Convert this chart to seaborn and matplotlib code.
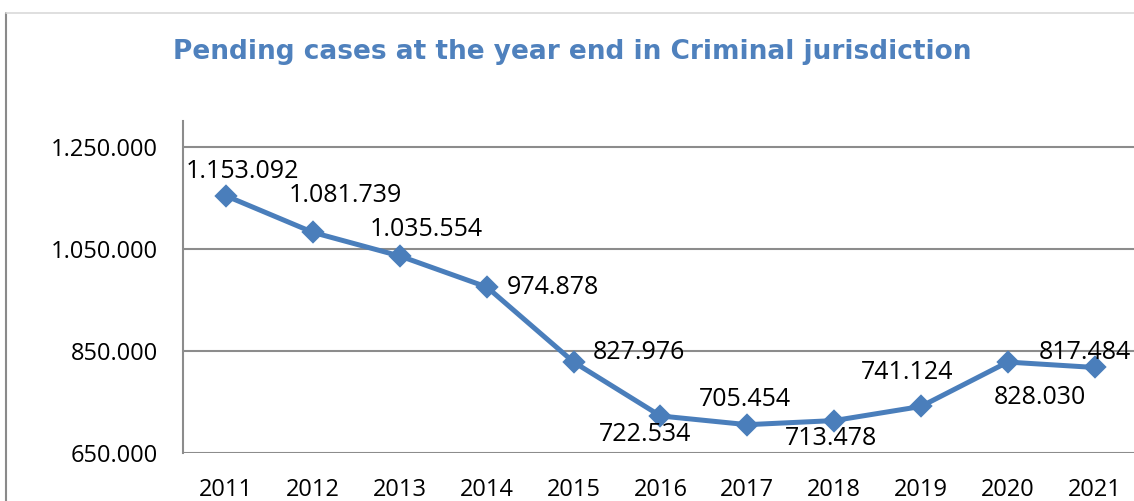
import matplotlib
matplotlib.use("Agg")
import matplotlib.pyplot as plt
import seaborn as sns
import pandas as pd
from matplotlib.lines import Line2D

# data
years = ["2011", "2012", "2013", "2014", "2015", "2016",
         "2017", "2018", "2019", "2020", "2021"]
pending = [1153092, 1081739, 1035554, 974878, 827976, 722534,
           705454, 713478, 741124, 828030, 817484]
y_ticks = [650000, 850000, 1050000, 1250000]

# label placement (pixel offsets from each point)
label_offsets = [(16, 25), (32, 37), (26, 27), (66, 0), (65, 10), (-15, -19),
                 (-2, 25), (-3, -18), (-14, 34), (32, -35), (-10, 15)]

blue = "#4A7EBB"
grid_gray = "#8C8C8C"


def fmt(v):
    return f"{v:,}".replace(",", ".")


sns.set_theme(style="white")
plt.rcParams["font.family"] = ["Open Sans", "DejaVu Sans"]

df = pd.DataFrame({"Year": years, "Pending": pending})

fig = plt.figure(figsize=(11.34, 5.01), dpi=100)
ax = fig.add_axes([183 / 1134, 48 / 501, 955 / 1134, 332 / 501])

sns.pointplot(data=df, x="Year", y="Pending", color=blue, marker="D",
              markersize=9, linewidth=3.6, errorbar=None, ax=ax, zorder=3)

ax.set_ylim(650000, 1300000)
ax.set_xlim(-0.5, len(years) - 0.5)
ax.set_yticks(y_ticks)
ax.set_yticklabels([fmt(v) for v in y_ticks])
ax.yaxis.grid(True, color=grid_gray, linewidth=1.5)
ax.xaxis.grid(False)
ax.set_axisbelow(True)
ax.tick_params(axis="y", length=0, pad=18, labelsize=17, labelcolor="black")
ax.tick_params(axis="x", length=0, pad=18, labelsize=17, labelcolor="black")
ax.set_xlabel("")
ax.set_ylabel("")

for side in ["top", "right", "bottom"]:
    ax.spines[side].set_visible(False)
ax.spines["left"].set_color(grid_gray)
ax.spines["left"].set_linewidth(1.5)

for i, (v, (dx, dy)) in enumerate(zip(pending, label_offsets)):
    ax.annotate(fmt(v), (i, v), xytext=(dx, dy), textcoords="offset pixels",
                ha="center", va="center", fontsize=18, color="black",
                annotation_clip=False)

fig.text(572 / 1134, 1 - 52 / 501,
         "Pending cases at the year end in Criminal jurisdiction",
         ha="center", va="center", fontsize=19, fontweight="bold",
         color="#4F81BD", family="DejaVu Sans")

# outer chart border (left and top edges visible)
fig.add_artist(Line2D([6 / 1134, 6 / 1134], [0, 1 - 13 / 501],
                      transform=fig.transFigure, color="#8A8A8A", linewidth=1.5))
fig.add_artist(Line2D([6 / 1134, 1], [1 - 13 / 501, 1 - 13 / 501],
                      transform=fig.transFigure, color="#D9D9D9", linewidth=1.2))

fig.savefig("out.png", dpi=100)
